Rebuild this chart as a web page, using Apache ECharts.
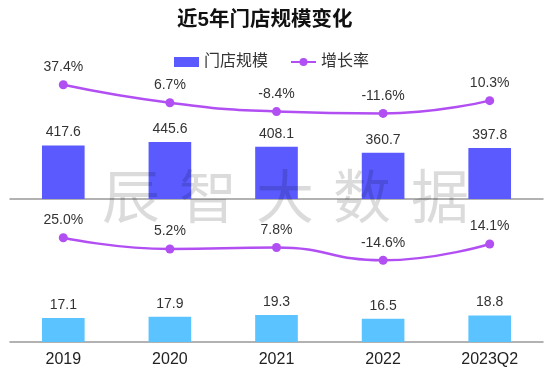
<!DOCTYPE html>
<html><head><meta charset="utf-8">
<script src="https://cdn.jsdelivr.net/npm/echarts@6/dist/echarts.min.js"></script>
<style>html,body{margin:0;padding:0;background:#fff}#c{width:553px;height:374px}</style>
</head><body><div id="c"></div>
<script>
var categories = ['2019','2020','2021','2022','2023Q2'];
var storeScaleTop = [417.6, 445.6, 408.1, 360.7, 397.8];
var growthTop = [37.4, 6.7, -8.4, -11.6, 10.3];
var storeScaleBottom = [17.1, 17.9, 19.3, 16.5, 18.8];
var growthBottom = [25.0, 5.2, 7.8, -14.6, 14.1];
var titleText = '近5年门店规模变化';
var legendNames = ['门店规模', '增长率'];
var watermarkChars = ['辰','智','大','数','据'];

var FONT = 'Liberation Sans, Arial, Noto Sans CJK SC, sans-serif';
var chart = echarts.init(document.getElementById('c'));
var wmX = [131, 208, 285, 362, 440];
var lineColor = '#b24ff3';
var pct = function(p){ return p.value.toFixed(1) + '%'; };
var labelStyle = {show:true, position:'top', distance:6, fontSize:14, color:'#333', fontFamily:FONT};

chart.setOption({
  animation:false,
  textStyle:{fontFamily:FONT},
  title:{text:titleText, left:172, top:5, textStyle:{fontSize:20.5, fontWeight:'bold', color:'#111', fontFamily:FONT}},
  legend:{top:49, left:169, itemWidth:25, itemHeight:10, itemGap:22,
    textStyle:{fontSize:16, color:'#333', fontFamily:FONT},
    data:[{name:legendNames[0], icon:'rect'}, {name:legendNames[1]}]},
  grid:[{left:10, right:10, top:71, height:128}, {left:10, right:10, top:210, height:132}],
  xAxis:[
    {type:'category', gridIndex:0, data:categories, axisLine:{lineStyle:{color:'#999', width:1.5}}, axisTick:{show:false}, axisLabel:{show:false}},
    {type:'category', gridIndex:1, data:categories, axisLine:{lineStyle:{color:'#999', width:1.5}}, axisTick:{show:false},
      axisLabel:{fontSize:16, color:'#222', margin:10, fontFamily:FONT}}
  ],
  yAxis:[
    {type:'value', gridIndex:0, min:0, max:1000, show:false},
    {type:'value', gridIndex:0, min:-158, max:61, show:false},
    {type:'value', gridIndex:1, min:0, max:94, show:false},
    {type:'value', gridIndex:1, min:-158, max:73.7, show:false}
  ],
  series:[
    {name:legendNames[0], type:'bar', xAxisIndex:0, yAxisIndex:0, data:storeScaleTop, barWidth:'40%',
      itemStyle:{color:'#5a5aff'}, label:labelStyle},
    {name:legendNames[1], type:'line', xAxisIndex:0, yAxisIndex:1, data:growthTop, smooth:true,
      symbol:'circle', symbolSize:9, lineStyle:{width:2.5, color:lineColor}, itemStyle:{color:lineColor},
      label:Object.assign({}, labelStyle, {formatter:pct})},
    {name:legendNames[0]+' ', type:'bar', xAxisIndex:1, yAxisIndex:2, data:storeScaleBottom, barWidth:'40%',
      itemStyle:{color:'#5bc3ff'}, label:labelStyle},
    {name:legendNames[1]+' ', type:'line', xAxisIndex:1, yAxisIndex:3, data:growthBottom, smooth:true,
      symbol:'circle', symbolSize:9, lineStyle:{width:2.5, color:lineColor}, itemStyle:{color:lineColor},
      label:Object.assign({}, labelStyle, {formatter:pct})}
  ],
  graphic: watermarkChars.map(function(ch, i){
    return {type:'text', z:100, x:wmX[i], y:196, style:{text:ch, fontSize:58, fill:'rgba(0,0,0,0.14)',
      fontFamily:'Noto Sans CJK SC', align:'center', verticalAlign:'middle'}};
  })
});
</script></body></html>
